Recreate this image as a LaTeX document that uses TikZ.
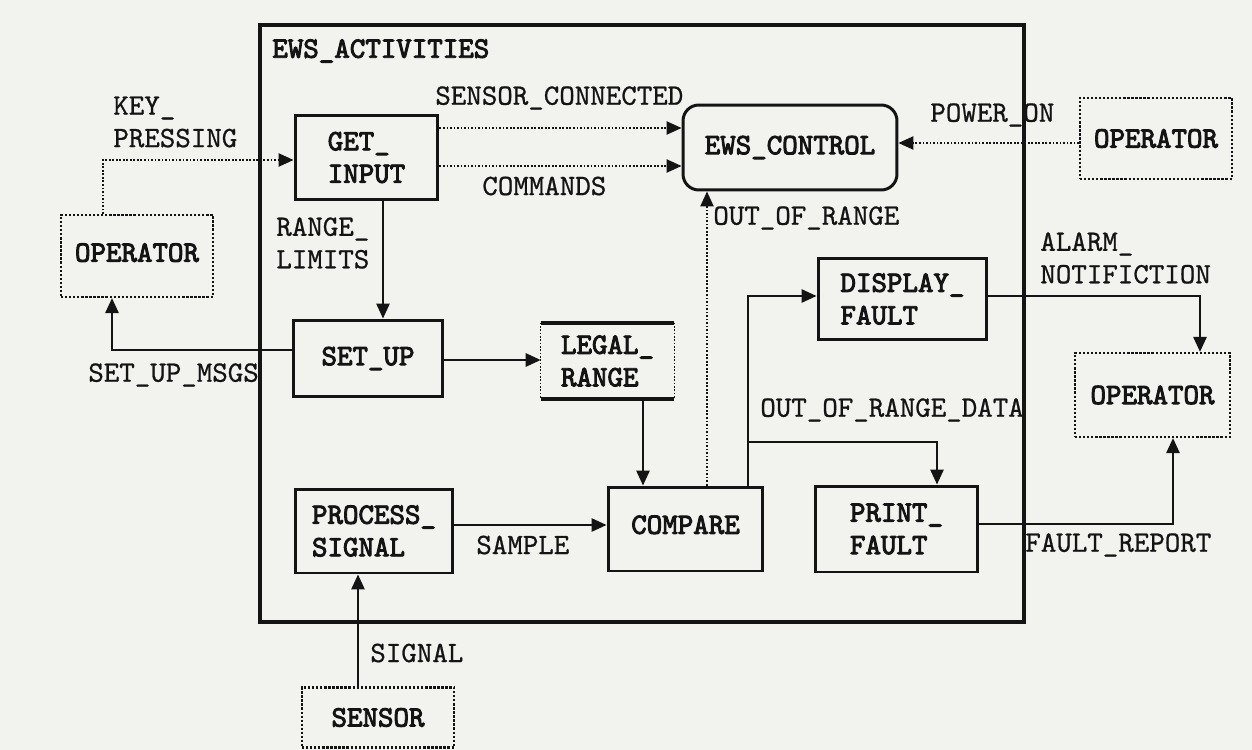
\documentclass[tikz,border=0pt]{standalone}
\usepackage{fontspec}
\usetikzlibrary{arrows.meta,positioning}
\newfontfamily\lmlab{lmmono10-regular.otf}[RawFeature={embolden=0.8}]
\newfontfamily\lmbox{lmmono10-regular.otf}[RawFeature={embolden=3.2}]
\definecolor{paper}{RGB}{242,242,239}
\definecolor{ink}{RGB}{20,20,20}
\newcommand\lblfont{\fontsize{16.8}{18.5}\selectfont\lmlab}
\newcommand\boxfont{\fontsize{16.8}{18.5}\selectfont\lmbox}
\begin{document}
\begin{tikzpicture}[x=0.02cm,y=-0.02cm,
  every node/.style={font=\lblfont, text=ink},
  proc/.style={draw=ink, line width=1.7pt, font=\boxfont, align=left, inner sep=2pt},
  ctrl/.style={proc, rounded corners=9pt},
  ext/.style={draw=ink, line width=1.3pt, densely dotted, font=\boxfont, align=left},
  store/.style={font=\boxfont, align=left},
  lbl/.style={anchor=west, inner sep=0pt, align=left},
  flow/.style={draw=ink, line width=1.2pt, -{Triangle[length=8.5pt,width=7.5pt]}},
  dflow/.style={draw=ink, line width=1.0pt, densely dotted, -{Triangle[length=8.5pt,width=7.5pt]}},
  outerbox/.style={draw=ink, line width=2.1pt}]
\fill[paper] (0,0) rectangle (1252,750);
\useasboundingbox (0,0) rectangle (1252,750);

% outer activity box
\draw[outerbox] (260,25) rectangle (1024,622);
\node[lbl, font=\boxfont] (title) at (272,51) {EWS\_ACTIVITIES};

% processes
\node[proc, minimum width=2.86cm, minimum height=1.70cm] (gi) at (366.5,157.5) {GET\_\\INPUT};
\node[proc, minimum width=3.00cm, minimum height=1.54cm] (su) at (368,358.5) {SET\_UP};
\node[ctrl, minimum width=4.28cm, minimum height=1.70cm] (ec) at (790,147.5) {EWS\_CONTROL};
\node[proc, minimum width=3.38cm, minimum height=1.64cm] (df) at (902.5,299) {DISPLAY\_\\FAULT};
\node[proc, minimum width=3.10cm, minimum height=1.68cm] (cmp) at (685.5,529) {\raisebox{5pt}{COMPARE}};
\node[proc, minimum width=3.16cm, minimum height=1.68cm] (ps) at (374,531) {PROCESS\_\\SIGNAL};
\node[proc, minimum width=3.26cm, minimum height=1.72cm] (pf) at (896.5,529) {PRINT\_\\FAULT};

% data store
\node[store, minimum width=2.66cm, minimum height=1.52cm] (lr) at (607.5,361) {LEGAL\_\\RANGE};
\draw[ink, line width=0.9pt, densely dotted] (lr.north west) -- (lr.south west) (lr.north east) -- (lr.south east);
\draw[ink, line width=2.2pt] (lr.north west) -- (lr.north east) (lr.south west) -- (lr.south east);

% external entities
\node[ext, minimum width=3.04cm, minimum height=1.64cm] (opL) at (137,256) {\raisebox{4pt}{OPERATOR}};
\node[ext, minimum width=3.04cm, minimum height=1.62cm] (opTR) at (1156,138.5) {OPERATOR};
\node[ext, minimum width=3.10cm, minimum height=1.68cm] (opR) at (1152.5,395) {OPERATOR};
\node[ext, minimum width=3.04cm, minimum height=1.20cm] (sen) at (378,717.5) {SENSOR};

% connectors
\draw[dflow] (103,0 |- opL.north) |- (gi.west |- 0,160);
\draw[flow] (su.west |- 0,350) -| (112,0 |- opL.south);
\draw[flow] (383,0 |- gi.south) -- (383,0 |- su.north);
\draw[dflow] (gi.east |- 0,128) -- (ec.west |- 0,128);
\draw[dflow] (gi.east |- 0,166) -- (ec.west |- 0,166);
\draw[dflow] (opTR.west |- 0,143) -- (ec.east |- 0,143);
\draw[dflow] (707,0 |- cmp.north) -- (707,0 |- ec.south);
\draw[flow] (su.east |- 0,360) -- (lr.west |- 0,360);
\draw[flow] (643,0 |- lr.south) -- (643,0 |- cmp.north);
\draw[flow] (ps.east |- 0,525) -- (cmp.west |- 0,525);
\draw[flow] (358,0 |- sen.north) -- (358,0 |- ps.south);
\draw[flow] (748,0 |- cmp.north) |- (df.west |- 0,296);
\coordinate (br) at (748,442);
\draw[flow] (br) -| (937,0 |- pf.north);
\draw[flow] (df.east |- 0,296) -| (1200,0 |- opR.north);
\draw[flow] (pf.east |- 0,524) -| (1173,0 |- opR.south);

% connector labels
\node[lbl] (lkey) at (113,122) {KEY\_\\PRESSING};
\node[lbl] (lsc) at (435,98) {SENSOR\_CONNECTED};
\node[lbl] (lcmd) at (482,186) {COMMANDS};
\node[lbl] (lpow) at (930,115) {POWER\_ON};
\node[lbl] (lrl) at (276,243) {RANGE\_\\LIMITS};
\node[lbl] (loor) at (713,218) {OUT\_OF\_RANGE};
\node[lbl] (lal) at (1040,258) {ALARM\_\\NOTIFICTION};
\node[lbl] (lsum) at (88,375) {SET\_UP\_MSGS};
\node[lbl] (lood) at (760,410) {OUT\_OF\_RANGE\_DATA};
\node[lbl] (lsam) at (476,545) {SAMPLE};
\node[lbl] (lfr) at (1025,545) {FAULT\_REPORT};
\node[lbl] (lsig) at (370,653) {SIGNAL};
\end{tikzpicture}
\end{document}
